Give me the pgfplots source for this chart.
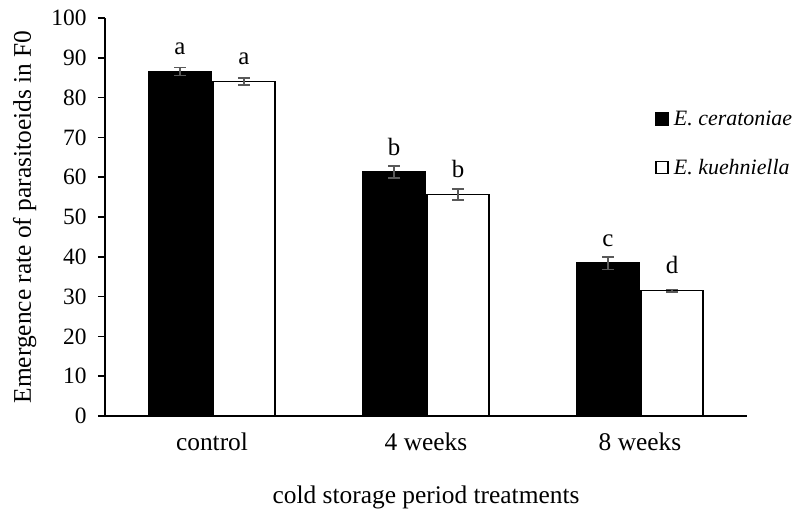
\documentclass[border=0pt]{standalone}
\usepackage{fontspec}
\setmainfont{Liberation Serif}
\usepackage{pgfplots}
\usepackage{pgfplotstable}
\pgfplotsset{compat=1.18}

\pgfplotstableread{
x y e lab
0 86.6 1.0 a
1 61.3 1.5 b
2 38.4 1.6 c
}\ceratoniae
\pgfplotstableread{
x y e lab
0 84.0 0.9 a
1 55.7 1.4 b
2 31.5 0.3 d
}\kuehniella

\definecolor{errgrey}{HTML}{595959}

\begin{document}
\begin{tikzpicture}
\useasboundingbox (-105bp,-94bp) rectangle (695bp,416bp);
\begin{axis}[
  at={(0,0)}, anchor=south west,
  scale only axis, width=642bp, height=398bp,
  xmin=-0.5, xmax=2.5, ymin=0, ymax=100,
  axis x line=bottom, axis y line=left,
  axis line style={line width=1.6bp, -},
  ybar, bar width=62bp, bar shift auto,
  ytick={0,10,...,100},
  xtick={0,1,2}, xticklabels={control,4 weeks,8 weeks},
  x tick style={draw=none},
  y tick style={line width=1.6bp, black},
  tick align=outside, major tick length=7bp,
  /pgf/number format/assume math mode=true,
  yticklabel style={font=\fontsize{23.5}{27}\selectfont, xshift=-8bp},
  xticklabel style={font=\fontsize{25.5}{29}\selectfont, anchor=base, yshift=-27bp},
  ylabel={Emergence rate of parasitoeids in F0},
  xlabel={cold storage period treatments},
  ylabel style={font=\fontsize{25.5}{29}\selectfont, at={(axis description cs:-0.1153,0.5)}, anchor=base, rotate=0},
  xlabel style={font=\fontsize{25.5}{29}\selectfont, at={(axis description cs:0.5,0)}, anchor=base, yshift=-87bp},
  legend style={draw=none, fill=none, at={(0.857,0.685)}, anchor=west, inner sep=0pt,
    font=\fontsize{22}{26}\selectfont\itshape, row sep=28bp, legend cell align=left,
    nodes={inner xsep=5bp}},
  legend image code/.code={\draw[#1, line width=1.6bp] (0bp,-6bp) rectangle (12bp,6bp);},
  nodes near coords, point meta=explicit symbolic,
  every node near coord/.append style={anchor=base, yshift=17bp, font=\fontsize{25}{29}\selectfont, black},
  error bars/error bar style={line width=1.6bp, errgrey},
  error bars/error mark options={rotate=90, mark size=6bp, line width=1.6bp, errgrey},
]
\addplot[fill=black, draw=black, line width=1.6bp,
  error bars/.cd, y dir=both, y explicit]
  table[x=x, y=y, y error=e, meta=lab] {\ceratoniae};
\addplot[fill=white, draw=black, line width=1.6bp,
  error bars/.cd, y dir=both, y explicit]
  table[x=x, y=y, y error=e, meta=lab] {\kuehniella};
\legend{E. ceratoniae, E. kuehniella}
\end{axis}
\end{tikzpicture}
\end{document}
